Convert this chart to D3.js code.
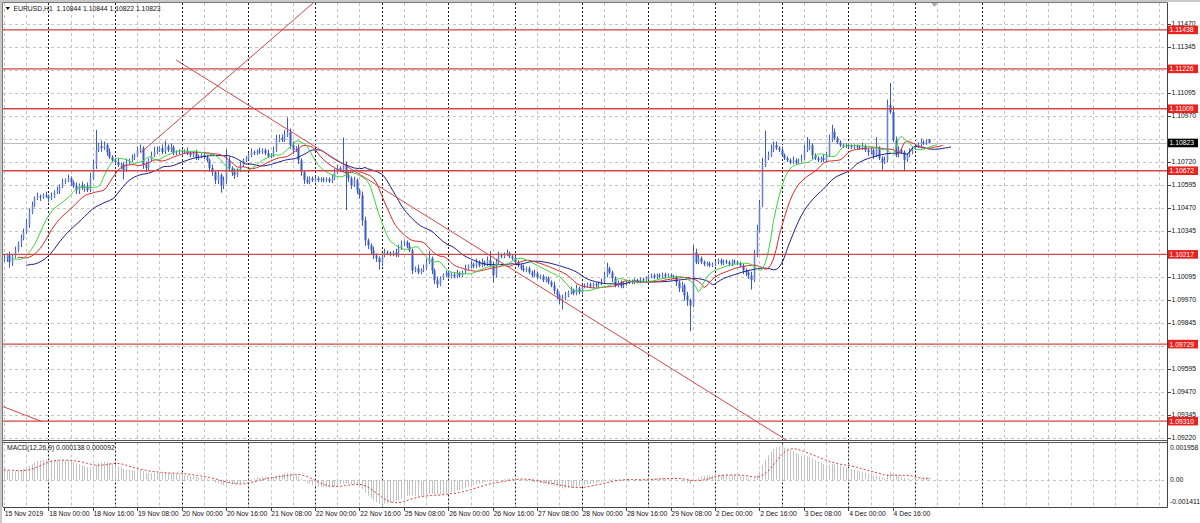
<!DOCTYPE html>
<html><head><meta charset="utf-8">
<script src="https://cdn.jsdelivr.net/npm/d3@7"></script>
<style>
html,body{margin:0;padding:0;background:#fff;overflow:hidden;}
svg{display:block;font-family:"Liberation Sans",Arial,sans-serif;}
</style></head><body>
<svg id="c" width="1200" height="523"></svg>
<script>
// ---------------- DATA ----------------
// EURUSD H1 closes, one per hour from 15 Nov 2019 08:00
const closes = [
// 15 Nov
1.10196,1.10212,1.10174,1.10206,1.10239,1.10277,1.10304,1.10337,1.10381,1.10446,1.10484,1.10522,1.10533,1.10528,1.10539,1.10533,
// 18 Nov
1.10522,1.10533,1.10555,1.10566,1.10588,1.10609,1.10620,1.10631,1.10609,1.10588,1.10566,1.10593,1.10577,1.10588,1.10566,1.10631,1.10702,1.10784,1.10805,1.10795,1.10811,1.10773,1.10746,1.10729,
// 19 Nov
1.10718,1.10702,1.10707,1.10675,1.10718,1.10729,1.10740,1.10756,1.10784,1.10795,1.10702,1.10686,1.10729,1.10756,1.10773,1.10784,1.10795,1.10773,1.10805,1.10784,1.10800,1.10767,1.10773,1.10778,
// 20 Nov
1.10773,1.10778,1.10767,1.10756,1.10767,1.10740,1.10751,1.10756,1.10746,1.10729,1.10686,1.10664,1.10620,1.10648,1.10593,1.10620,1.10729,1.10686,1.10664,1.10648,1.10675,1.10702,1.10729,1.10740,
// 21 Nov
1.10756,1.10773,1.10767,1.10778,1.10773,1.10784,1.10767,1.10751,1.10756,1.10784,1.10838,1.10849,1.10838,1.10865,1.10882,1.10811,1.10784,1.10795,1.10729,1.10664,1.10620,1.10609,1.10631,1.10620,
// 22 Nov
1.10631,1.10620,1.10626,1.10620,1.10626,1.10615,1.10631,1.10664,1.10686,1.10675,1.10702,1.10648,1.10631,1.10593,1.10620,1.10566,1.10539,1.10402,1.10293,1.10266,1.10239,1.10212,1.10196,1.10174,
// 25 Nov
1.10212,1.10228,1.10223,1.10217,1.10228,1.10212,1.10250,1.10272,1.10283,1.10261,1.10239,1.10130,1.10141,1.10119,1.10130,1.10141,1.10174,1.10196,1.10130,1.10076,1.10054,1.10087,1.10103,1.10119,
// 26 Nov
1.10097,1.10108,1.10097,1.10114,1.10103,1.10119,1.10141,1.10152,1.10163,1.10152,1.10174,1.10157,1.10174,1.10163,1.10185,1.10157,1.10103,1.10174,1.10212,1.10206,1.10217,1.10223,1.10206,1.10196,
// 27 Nov
1.10174,1.10157,1.10141,1.10130,1.10141,1.10119,1.10103,1.10114,1.10092,1.10097,1.10076,1.10087,1.10065,1.10048,1.10021,1.09994,1.09967,1.09978,1.09994,1.10010,1.10021,1.10005,1.10032,1.10010,
// 28 Nov
1.10043,1.10048,1.10054,1.10043,1.10054,1.10048,1.10059,1.10065,1.10103,1.10141,1.10119,1.10087,1.10048,1.10065,1.10043,1.10059,1.10065,1.10070,1.10065,1.10076,1.10070,1.10081,1.10076,1.10087,
// 29 Nov
1.10097,1.10103,1.10092,1.10103,1.10097,1.10108,1.10097,1.10103,1.10097,1.10092,1.10065,1.10032,1.10048,1.09994,1.09967,1.09939,1.10228,1.10174,1.10196,1.10174,1.10163,1.10168,1.10157,1.10163,
// 2 Dec
1.10174,1.10185,1.10168,1.10179,1.10174,1.10163,1.10179,1.10174,1.10168,1.10157,1.10130,1.10119,1.10103,1.10076,1.10212,1.10348,1.10484,1.10702,1.10740,1.10756,1.10784,1.10811,1.10795,1.10784,
// 3 Dec
1.10756,1.10740,1.10729,1.10718,1.10729,1.10718,1.10729,1.10740,1.10784,1.10795,1.10811,1.10756,1.10740,1.10729,1.10740,1.10729,1.10756,1.10838,1.10882,1.10849,1.10827,1.10811,1.10805,1.10811,
// 4 Dec
1.10805,1.10800,1.10805,1.10800,1.10795,1.10805,1.10784,1.10773,1.10784,1.10756,1.10795,1.10740,1.10718,1.10729,1.11029,1.10991,1.10838,1.10756,1.10784,1.10773,1.10729,1.10756,1.10773,1.10795,
// 5 Dec
1.10805,1.10816,1.10827,1.10822,1.10833,1.10823
];
// upper / lower wick lengths, in pips, per bar
const upperWickPips = [
2,1,2,1,2,1,2,2,3,2,2,1,2,1,1,2,
1,2,1,2,1,2,1,2,1,1,2,1,2,1,2,3,3,11,2,3,2,1,2,1,
1,2,1,1,2,1,2,1,2,2,1,2,1,2,3,2,1,2,3,1,2,1,1,1,
1,1,2,1,1,2,1,1,2,1,1,2,1,2,1,2,6,2,1,2,1,2,1,1,
1,2,1,1,2,1,1,2,1,2,3,2,2,3,8,2,2,1,2,1,1,2,1,1,
1,1,1,1,1,1,2,2,2,1,15,2,2,1,2,1,1,2,2,1,1,2,1,1,
1,2,1,1,1,2,2,2,1,1,2,1,1,2,1,2,2,4,1,1,2,1,1,1,
1,1,1,2,1,1,2,1,2,1,2,1,2,1,2,5,2,2,2,1,1,2,1,1,
1,1,1,2,1,1,1,2,1,1,1,1,1,1,2,1,1,2,2,1,2,1,2,1,
1,1,1,1,1,1,1,2,2,3,1,1,1,1,1,1,1,1,1,1,1,1,1,1,
1,1,1,1,1,1,1,1,1,1,1,1,2,1,2,1,4,2,2,1,1,1,1,1,
1,1,1,1,1,1,1,1,1,1,1,1,1,2,3,3,3,4,15,2,3,2,2,1,
2,1,1,1,2,1,1,2,3,6,3,1,1,1,1,2,2,3,4,2,1,1,1,1,
1,1,1,1,1,2,1,1,1,1,6,1,1,2,3,12,3,2,2,1,1,1,2,1,
1,1,2,1,1,0
];
const lowerWickPips = [
2,2,3,2,1,1,2,1,1,2,1,1,1,2,1,1,
2,1,1,1,2,1,1,1,2,1,2,2,1,2,1,1,1,2,1,2,1,2,1,1,
1,1,2,5,1,1,1,1,1,1,2,2,1,1,1,1,1,1,1,1,1,1,1,1,
1,1,1,1,1,1,1,1,1,1,2,2,2,2,4,2,2,2,2,2,1,1,1,1,
1,1,1,1,1,1,1,1,1,1,1,1,1,1,1,2,2,1,2,2,2,1,1,1,
1,1,1,1,1,1,1,1,1,1,1,19,2,2,1,2,2,3,3,2,2,2,2,4,
2,1,1,1,1,1,1,1,1,1,1,2,1,1,1,1,1,1,2,2,2,1,1,1,
1,1,1,1,1,1,1,1,1,1,1,1,1,1,1,1,4,1,1,1,1,1,1,1,
1,1,1,1,1,1,1,1,1,1,1,1,1,1,2,2,2,5,1,1,1,1,1,1,
1,1,1,1,1,1,1,1,1,1,1,2,1,1,1,1,1,1,1,1,1,1,1,1,
1,1,1,1,1,1,1,1,1,1,2,2,2,3,3,14,1,1,1,1,1,1,1,1,
1,1,1,1,1,1,1,1,1,1,2,2,2,5,1,1,1,1,1,1,1,1,1,1,
1,1,1,1,1,1,1,1,1,1,1,2,1,1,1,1,1,1,1,1,1,1,1,1,
1,1,1,1,1,1,1,2,1,2,1,1,4,1,1,1,1,1,1,1,6,1,1,1,
1,1,1,1,1,0
];
const lastOpen = 1.10844;

const priceTicks = [1.11470,1.11345,1.11220,1.11095,1.10970,1.10845,1.10720,1.10595,1.10470,1.10345,1.10220,1.10095,1.09970,1.09845,1.09720,1.09595,1.09470,1.09345,1.09220];
const levelPrices = [1.11438,1.11226,1.11009,1.10672,1.10217,1.09729,1.09310];
const currentPrice = 1.10823;

const timeLabelBars = [0,16,32,48,64,80,96,112,128,144,160,176,192,208,224,240,256,272,288,304,320];
const timeLabelTexts = ["15 Nov 2019","18 Nov 00:00","18 Nov 16:00","19 Nov 08:00","20 Nov 00:00","20 Nov 16:00","21 Nov 08:00","22 Nov 00:00","22 Nov 16:00","25 Nov 08:00","26 Nov 00:00","26 Nov 16:00","27 Nov 08:00","28 Nov 00:00","28 Nov 16:00","29 Nov 08:00","2 Dec 00:00","2 Dec 16:00","3 Dec 08:00","4 Dec 00:00","4 Dec 16:00"];
const daySeparatorBars = [16,40,64,88,112,136,160,184,208,232,256,280,304,328,352];
const chartShiftBar = 335;

// trend lines: [bar, price] anchor pairs
const trendUp = [[49.0,1.10767],[111.3,1.11584]];
const trendDown = [[62.0,1.11274],[282.0,1.09204]];
const trendLow = [[-0.3,1.09389],[13.7,1.09308]];

// Alligator (13/8, 8/5, 5/3) values at the first bar, MACD(12,26,9) EMA values at the first bar
const alligatorPeriods = [13,8,5];
const alligatorShifts = [8,5,3];
const alligatorStart = [1.10157,1.10201,1.10190];
const alligatorColors = ["#1c1c8a","#d42a2a","#3fd23f"];
const macdEmaStart = [1.10185,1.10132];
const macdRange = [-0.001411,0.001958];

const titleText = "EURUSD,H1  1.10844 1.10844 1.10822 1.10823";
const macdTitle = "MACD(12,26,9) 0.000138 0.000092";

// ---------------- LAYOUT ----------------
const PL=3, PR=1167, MT=3, MB=440, ST=442.5, SB=507;
const pip = 0.0001;
const svg = d3.select("#c");
const x = d3.scaleLinear().domain([0,24]).range([3.9,3.9+66.667]);
const y = d3.scaleLinear().domain([1.0922,1.1147]).range([437.7,24]);
const ym = d3.scaleLinear().domain(macdRange).range([506,443.5]);

// OHLC
const bars = closes.map((c,i)=>{
  const o = i===0 ? c : (i===closes.length-1 ? lastOpen : closes[i-1]);
  const hi = Math.max(o,c) + (upperWickPips[i] ?? 1)*pip;
  const lo = Math.min(o,c) - (lowerWickPips[i] ?? 1)*pip;
  return {i,o,h:hi,l:lo,c};
});

// background
svg.append("rect").attr("width",1200).attr("height",523).attr("fill","#fff");
svg.append("rect").attr("x",0).attr("y",0).attr("width",1200).attr("height",2).attr("fill","#c8c8c8");
svg.append("rect").attr("x",0).attr("y",0).attr("width",2).attr("height",523).attr("fill","#c8c8c8");

const defs = svg.append("defs");
defs.append("clipPath").attr("id","clipMain").append("rect").attr("x",PL).attr("y",MT).attr("width",PR-PL).attr("height",MB-MT);
defs.append("clipPath").attr("id","clipMacd").append("rect").attr("x",PL).attr("y",ST).attr("width",PR-PL).attr("height",SB-ST);

const crisp = v => Math.round(v)+0.5;

// grid - vertical
const gridBars = d3.range(0, 420, 8).filter(b=>x(b) < PR-1);
[[MT,MB],[ST,SB]].forEach(([t,b])=>{
  const g = svg.append("g");
  gridBars.forEach(bb=>{
    const sep = daySeparatorBars.includes(bb);
    g.append("line").attr("x1",crisp(x(bb))).attr("x2",crisp(x(bb))).attr("y1",t).attr("y2",b)
     .attr("stroke", sep ? "#1a1a1a" : "#c4c4c4").attr("stroke-width",1)
     .attr("stroke-dasharray", sep ? "2,2" : "3,3");
  });
});
// grid - horizontal
const gh = svg.append("g");
priceTicks.forEach(p=>{
  gh.append("line").attr("x1",PL).attr("x2",PR).attr("y1",crisp(y(p))).attr("y2",crisp(y(p)))
    .attr("stroke","#c4c4c4").attr("stroke-dasharray","3,3");
});
gh.append("line").attr("x1",PL).attr("x2",PR).attr("y1",crisp(ym(0))).attr("y2",crisp(ym(0)))
  .attr("stroke","#c4c4c4").attr("stroke-dasharray","3,3");

// current price line
svg.append("line").attr("x1",PL).attr("x2",PR).attr("y1",crisp(y(currentPrice))).attr("y2",crisp(y(currentPrice)))
  .attr("stroke","#bdbdbd");

// candles
const gc = svg.append("g").attr("clip-path","url(#clipMain)");
bars.forEach(d=>{
  const cx = Math.round(x(d.i));
  gc.append("line").attr("x1",cx+0.5).attr("x2",cx+0.5).attr("y1",y(d.h)).attr("y2",y(d.l))
    .attr("stroke","#3a5ac8").attr("stroke-width",1);
  const top = y(Math.max(d.o,d.c)), bot = y(Math.min(d.o,d.c));
  const bull = d.c >= d.o;
  gc.append("rect").attr("x",cx-0.5).attr("y",top).attr("width",2).attr("height",Math.max(1,bot-top))
    .attr("fill", bull ? "#a9bbe6" : "#3a5ac8");
  if (bull) gc.append("line").attr("x1",cx+0.5).attr("x2",cx+0.5).attr("y1",top).attr("y2",top+Math.max(1,bot-top))
    .attr("stroke","#3a5ac8").attr("stroke-width",0.6);
});

// Alligator (smoothed MA of median price, shifted forward)
const median = bars.map(d=>(d.h+d.l)/2);
alligatorPeriods.forEach((n,k)=>{
  const sm = [];
  median.forEach((m,i)=>{ sm.push(i===0 ? alligatorStart[k] : (sm[i-1]*(n-1)+m)/n); });
  const pts = sm.map((v,i)=>[i+alligatorShifts[k], v]);
  svg.append("path").attr("clip-path","url(#clipMain)")
    .attr("d", d3.line().x(p=>x(p[0])).y(p=>y(p[1]))(pts))
    .attr("fill","none").attr("stroke",alligatorColors[k]).attr("stroke-width",1);
});

// horizontal levels
const gl = svg.append("g").attr("clip-path","url(#clipMain)");
levelPrices.forEach(p=>{
  gl.append("line").attr("x1",PL).attr("x2",PR).attr("y1",y(p)).attr("y2",y(p))
    .attr("stroke","#d24646").attr("stroke-width",1.4);
});
// trend lines
[trendUp,trendDown,trendLow].forEach(t=>{
  gl.append("line").attr("x1",x(t[0][0])).attr("y1",y(t[0][1])).attr("x2",x(t[1][0])).attr("y2",y(t[1][1]))
    .attr("stroke","#cc4a4a").attr("stroke-width",1);
});

// MACD
const gm = svg.append("g").attr("clip-path","url(#clipMacd)");
let e12 = macdEmaStart[0], e26 = macdEmaStart[1];
const a12 = 2/13, a26 = 2/27;
const macd = closes.map((c,i)=>{
  if (i>0){ e12 = e12 + a12*(c-e12); e26 = e26 + a26*(c-e26); }
  return e12-e26;
});
const macd0 = macdEmaStart[0]-macdEmaStart[1];
const signal = macd.map((v,i)=>{
  let s=0; for(let j=i-8;j<=i;j++) s += j<0 ? macd0 : macd[j];
  return s/9;
});
macd.forEach((v,i)=>{
  gm.append("line").attr("x1",crisp(x(i))).attr("x2",crisp(x(i))).attr("y1",ym(0)).attr("y2",ym(v))
    .attr("stroke","#c2c2c2").attr("stroke-width",1);
});
gm.append("path").attr("d", d3.line().x((v,i)=>x(i)).y(v=>ym(v))(signal))
  .attr("fill","none").attr("stroke","#d83a3a").attr("stroke-width",1).attr("stroke-dasharray","2,2");

// panel borders
svg.append("line").attr("x1",PL-0.5).attr("x2",PR).attr("y1",2.5).attr("y2",2.5).attr("stroke","#777");
svg.append("line").attr("x1",2.5).attr("x2",2.5).attr("y1",2.5).attr("y2",SB).attr("stroke","#777");
svg.append("line").attr("x1",PL).attr("x2",PR).attr("y1",440.5).attr("y2",440.5).attr("stroke","#555");
svg.append("line").attr("x1",PL).attr("x2",PR).attr("y1",442.5).attr("y2",442.5).attr("stroke","#555");
svg.append("line").attr("x1",PL).attr("x2",PR+0.5).attr("y1",SB+0.5).attr("y2",SB+0.5).attr("stroke","#444");
svg.append("line").attr("x1",PR+0.5).attr("x2",PR+0.5).attr("y1",2.5).attr("y2",SB+0.5).attr("stroke","#444");

// chart-shift marker at the top edge
const sx = x(chartShiftBar);
svg.append("path").attr("d",`M${sx-3},3 L${sx+3},3 L${sx},7 Z`).attr("fill","#a8a8a8");

// right price axis
const ga = svg.append("g").attr("font-size","6.8px").attr("fill","#111");
const boxPrices = levelPrices.concat([currentPrice]);
priceTicks.forEach(p=>{
  const yy = y(p);
  ga.append("line").attr("x1",PR).attr("x2",PR+4).attr("y1",crisp(yy)).attr("y2",crisp(yy)).attr("stroke","#444");
  // a tick label that sits under a coloured price box is hidden by it
  if (boxPrices.some(b=>Math.abs(y(b)-yy) < 5)) return;
  ga.append("text").attr("x",1171.5).attr("y",yy).attr("dy","0.36em").text(p.toFixed(5));
});
levelPrices.forEach(p=>{
  const yy = y(p);
  ga.append("rect").attr("x",1168).attr("y",yy-4.3).attr("width",30).attr("height",8.6).attr("fill","#e8221e");
  ga.append("text").attr("x",1169.5).attr("y",yy).attr("dy","0.36em").attr("fill","#fff").text(p.toFixed(5));
});
ga.append("rect").attr("x",1168).attr("y",y(currentPrice)-4.3).attr("width",30).attr("height",8.6).attr("fill","#000");
ga.append("text").attr("x",1169.5).attr("y",y(currentPrice)).attr("dy","0.36em").attr("fill","#fff").text(currentPrice.toFixed(5));

// MACD axis labels
[[macdRange[1],"0.001958",ym(macdRange[1])+4],[0,"0.00",ym(0)],[macdRange[0],"-0.001411",ym(macdRange[0])-4]].forEach(([v,t,yy])=>{
  ga.append("text").attr("x",1170).attr("y",yy).attr("dy","0.36em").text(t);
});

// time axis
const gt = svg.append("g").attr("font-size","6.8px").attr("fill","#111");
timeLabelBars.forEach((b,k)=>{
  const xx = x(b);
  gt.append("line").attr("x1",crisp(xx)).attr("x2",crisp(xx)).attr("y1",SB).attr("y2",SB+4).attr("stroke","#444");
  gt.append("text").attr("x",xx+0.8).attr("y",516).text(timeLabelTexts[k]);
});

// titles
svg.append("path").attr("d","M5.5,7 L10,7 L7.75,10 Z").attr("fill","#111");
svg.append("text").attr("x",13.5).attr("y",11).attr("font-size","6.8px").attr("fill","#111")
  .attr("xml:space","preserve").style("white-space","pre").text(titleText);
svg.append("text").attr("x",7).attr("y",450).attr("font-size","6.8px").attr("fill","#111").text(macdTitle);
</script>
</body></html>
